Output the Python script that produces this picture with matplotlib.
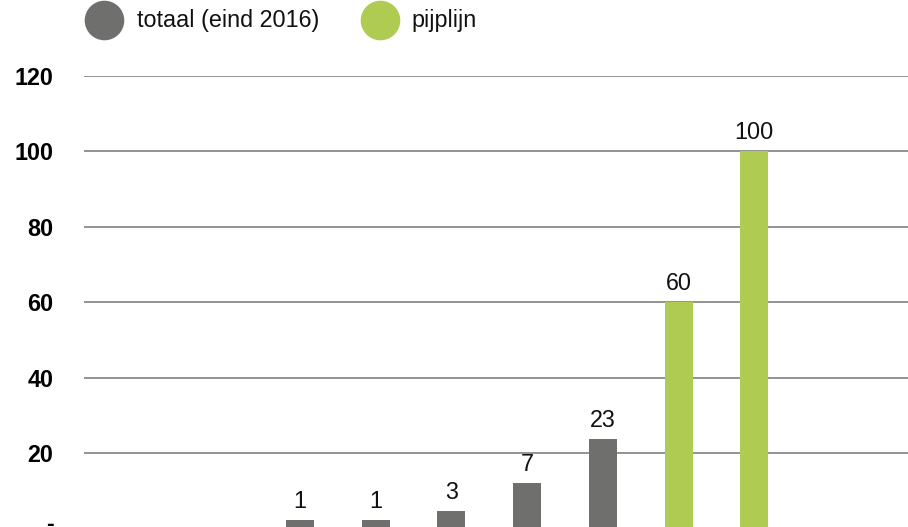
import matplotlib
matplotlib.use('Agg')
import matplotlib.pyplot as plt
import matplotlib.transforms as mtransforms
from matplotlib.lines import Line2D

plt.rcParams['font.family'] = ['Liberation Sans', 'DejaVu Sans']

# Data
categorieen = ['a', 'b', 'c', 'd', 'e', 'f', 'g']
hoogte = [2.2, 2.2, 4.6, 12.0, 23.7, 60, 100]
labels = ['1', '1', '3', '7', '23', '60', '100']
reeks = ['totaal', 'totaal', 'totaal', 'totaal', 'totaal', 'pijplijn', 'pijplijn']
kleuren = {'totaal': '#6f6f6e', 'pijplijn': '#afcb52'}
legenda = [('totaal', 'totaal (eind 2016)'), ('pijplijn', 'pijplijn')]
y_ticks = [0, 20, 40, 60, 80, 100, 120]
y_labels = ['-', '20', '40', '60', '80', '100', '120']

W, H = 908, 527
fs = 16.8
fig = plt.figure(figsize=(W / 100, H / 100), dpi=100)
ax = fig.add_axes([84 / W, -1.5 / H, (W - 84) / W, (528.5 - 75.7) / H])

x = range(len(categorieen))
ax.bar(x, hoogte, width=0.37, color=[kleuren[r] for r in reeks], zorder=3)
for xi, h, lab in zip(x, hoogte, labels):
    ax.annotate(lab, (xi, h), xytext=(0, 5), textcoords='offset points',
                ha='center', va='bottom', fontsize=fs, color='#111111')

ax.set_xlim(-2.85, 8.03)
ax.set_ylim(0, 120)
ax.set_yticks(y_ticks)
ax.set_yticklabels(y_labels, fontsize=fs, fontweight='bold')
ax.tick_params(axis='y', length=0, pad=22)
ax.set_xticks([])
ax.grid(axis='y', color='#808080', linewidth=1.2, zorder=0)
for s in ax.spines.values():
    s.set_visible(False)

# het streepje bij 0 valt bijna buiten beeld; iets omhoog zodat het zichtbaar blijft
nul = ax.get_yticklabels()[0]
nul.set_transform(nul.get_transform() + mtransforms.ScaledTranslation(0, 6 / 100, fig.dpi_scale_trans))

# legend
posities = [(104, 137), (380, 411)]
for (key, tekst), (cx, tx) in zip(legenda, posities):
    fig.add_artist(Line2D([cx / W], [1 - 20 / H], marker='o', markersize=27.5,
                          color=kleuren[key], linestyle='none',
                          transform=fig.transFigure))
    fig.text(tx / W, 1 - 20 / H, tekst, fontsize=fs, va='center', ha='left',
             color='#111111')

fig.savefig('out.png', dpi=100)
